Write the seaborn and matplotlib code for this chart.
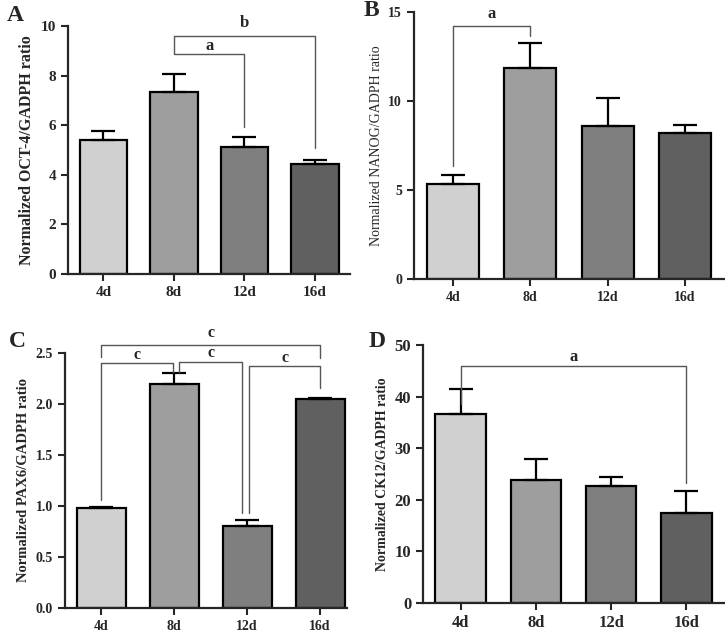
import numpy as np
import pandas as pd
import seaborn as sns
import matplotlib.pyplot as plt

# data
days = ["4d", "8d", "12d", "16d"]
bar_colors = ["#d0d0d0", "#9e9e9e", "#7f7f7f", "#606060"]

oct4_mean = [5.40, 7.35, 5.12, 4.42]
oct4_top = [5.78, 8.08, 5.53, 4.62]

nanog_mean = [5.35, 11.85, 8.60, 8.20]
nanog_top = [5.85, 13.25, 10.15, 8.65]

pax6_mean = [0.975, 2.19, 0.80, 2.05]
pax6_top = [0.985, 2.30, 0.855, 2.06]

ck12_mean = [36.6, 23.8, 22.6, 17.4]
ck12_top = [41.5, 27.9, 24.5, 21.8]

sns.set_style("ticks")
plt.rcParams["font.family"] = ["Liberation Serif", "DejaVu Serif"]

fig = plt.figure(figsize=(7.25, 6.32), dpi=100)


def bar_panel(rect, means, tops, ylim, yticks, ylabel, tick_fs, lab_fs, lab_weight,
              yfmt=None, xlim=(-0.5, 3.5)):
    ax = fig.add_axes(rect)
    df = pd.DataFrame({"day": days, "val": means})
    sns.barplot(data=df, x="day", y="val", hue="day", palette=bar_colors, legend=False,
                edgecolor="black", linewidth=1.6, width=0.67, ax=ax)
    err = np.array(tops) - np.array(means)
    ax.errorbar(np.arange(len(days)), means, yerr=[np.zeros(len(days)), err],
                fmt="none", ecolor="black", elinewidth=1.6, capsize=8.5, capthick=1.6)
    ax.set_ylim(*ylim)
    ax.set_xlim(*xlim)
    ax.set_yticks(yticks)
    if yfmt:
        ax.set_yticklabels([yfmt.format(t) for t in yticks])
    ax.set_xlabel("")
    ax.set_ylabel(ylabel, fontsize=lab_fs, fontweight=lab_weight)
    sns.despine(ax=ax)
    for s in ["left", "bottom"]:
        ax.spines[s].set_linewidth(1.6)
    ax.tick_params(width=1.5, length=5, labelsize=tick_fs)
    for lbl in ax.get_xticklabels() + ax.get_yticklabels():
        lbl.set_fontweight("bold")
    return ax


def bracket(ax, x1, x2, y, y1, y2, text=None, ty=None, fs=12):
    ax.plot([x1, x1, x2, x2], [y1, y, y, y2], color="#555555", lw=1.0, clip_on=False)
    if text:
        ax.text((x1 + x2) / 2, ty, text, ha="center", va="center", fontsize=fs,
                fontweight="bold")


# A
axA = bar_panel([0.094, 0.5665, 0.389, 0.392], oct4_mean, oct4_top, (0, 10),
                [0, 2, 4, 6, 8, 10], "Normalized OCT-4/GADPH ratio", 11, 11.5, "bold")
bracket(axA, 1, 3, 9.6, 9.15, 5.08, "b", 10.15, 12)
bracket(axA, 1, 2, 8.87, 9.15, 5.93, "a", 9.22, 12)
fig.text(0.01, 0.975, "A", fontsize=17, fontweight="bold", va="center")

# B
axB = bar_panel([0.571, 0.5585, 0.4275, 0.4225], nanog_mean, nanog_top, (0, 15),
                [0, 5, 10, 15], "Normalized NANOG/GADPH ratio", 10, 10, "normal")
bracket(axB, 0, 1, 14.23, 6.33, 13.63, "a", 14.9, 12)
fig.text(0.501, 0.983, "B", fontsize=17, fontweight="bold", va="center")

# C
axC = bar_panel([0.0897, 0.0384, 0.389, 0.4036], pax6_mean, pax6_top, (0, 2.5),
                [0, 0.5, 1.0, 1.5, 2.0, 2.5], "Normalized PAX6/GADPH ratio", 10, 10.5,
                "bold", yfmt="{:.1f}", xlim=(-0.5, 3.37))
bracket(axC, 0, 3, 2.575, 2.46, 2.45, "c", 2.69, 11.5)
bracket(axC, 0, 0.98, 2.40, 1.06, 2.314, "c", 2.48, 11.5)
bracket(axC, 1.07, 1.93, 2.41, 2.314, 0.93, "c", 2.50, 11.5)
bracket(axC, 2.03, 3, 2.37, 0.93, 2.157, "c", 2.45, 11.5)
fig.text(0.012, 0.46, "C", fontsize=17, fontweight="bold", va="center")

# D
axD = bar_panel([0.5834, 0.046, 0.4152, 0.408], ck12_mean, ck12_top, (0, 50),
                [0, 10, 20, 30, 40, 50], "Normalized CK12/GADPH ratio", 12, 10, "bold")
bracket(axD, 0, 3, 45.9, 38.5, 23.3, "a", 47.6, 12)
fig.text(0.508, 0.46, "D", fontsize=17, fontweight="bold", va="center")

fig.savefig("out.png", dpi=100, facecolor="white")
